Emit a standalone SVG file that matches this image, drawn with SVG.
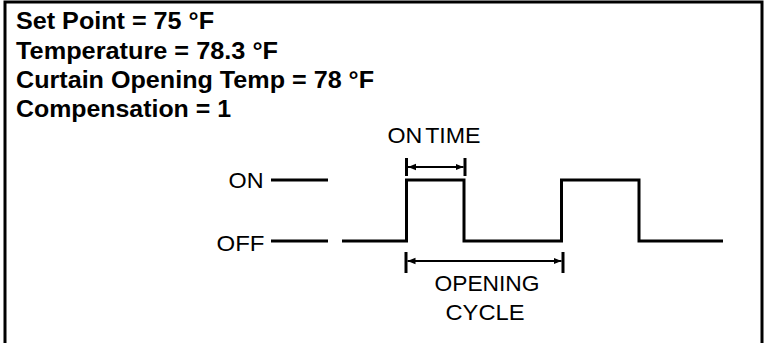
<svg xmlns="http://www.w3.org/2000/svg" width="764" height="343" viewBox="0 0 764 343">
<defs>
<style>
.hdr{font-family:"Liberation Sans",Arial,sans-serif;font-weight:bold;font-size:23px;fill:#000}
.lbl{font-family:"Liberation Sans",Arial,sans-serif;font-size:22px;fill:#000}
.wave{fill:none;stroke:#000;stroke-width:3}
.dim{fill:none;stroke:#000;stroke-width:2}
.tick{stroke:#000;stroke-width:3}
</style>
<marker id="ah" viewBox="0 0 10 10" refX="10" refY="5" markerWidth="4" markerHeight="4" orient="auto-start-reverse" markerUnits="strokeWidth">
<path d="M0,1 L10,5 L0,9 z" fill="#000"/>
</marker>
</defs>
<rect width="764" height="343" fill="#fff"/>
<path d="M5,343 V2 H762 V343" fill="none" stroke="#000" stroke-width="3"/>
<g id="header">
<text class="hdr" x="16" y="29" textLength="198" lengthAdjust="spacingAndGlyphs">Set Point = 75 °F</text>
<text class="hdr" x="16" y="58.5" textLength="262" lengthAdjust="spacingAndGlyphs">Temperature = 78.3 °F</text>
<text class="hdr" x="16" y="88" textLength="358" lengthAdjust="spacingAndGlyphs">Curtain Opening Temp = 78 °F</text>
<text class="hdr" x="16" y="117" textLength="215" lengthAdjust="spacingAndGlyphs">Compensation = 1</text>
</g>
<g id="label-on">
<text class="lbl" x="228.5" y="188" textLength="35" lengthAdjust="spacingAndGlyphs">ON</text>
<line class="wave" x1="271" y1="180" x2="328" y2="180"/>
</g>
<g id="label-off">
<text class="lbl" x="216.5" y="250.5" textLength="48" lengthAdjust="spacingAndGlyphs">OFF</text>
<line class="wave" x1="271" y1="241" x2="328" y2="241"/>
</g>
<g id="waveform">
<path class="wave" d="M342,241 H406.5 V180 H464 V241 H561.5 V180 H639 V241 H723"/>
</g>
<g id="on-time">
<line class="tick" x1="406.5" y1="158" x2="406.5" y2="176"/>
<line class="tick" x1="465" y1="158" x2="465" y2="176"/>
<line class="dim" x1="408" y1="167" x2="463.5" y2="167" marker-start="url(#ah)" marker-end="url(#ah)"/>
<text class="lbl" x="387.5" y="143" word-spacing="-3" textLength="93" lengthAdjust="spacingAndGlyphs">ON TIME</text>
</g>
<g id="opening-cycle">
<line class="tick" x1="406" y1="252" x2="406" y2="273"/>
<line class="tick" x1="563" y1="252" x2="563" y2="273"/>
<line class="dim" x1="407.5" y1="261" x2="561.5" y2="261" marker-start="url(#ah)" marker-end="url(#ah)"/>
<text class="lbl" x="434.5" y="291" textLength="105" lengthAdjust="spacingAndGlyphs">OPENING</text>
<text class="lbl" x="445.5" y="320" textLength="79" lengthAdjust="spacingAndGlyphs">CYCLE</text>
</g>
</svg>
